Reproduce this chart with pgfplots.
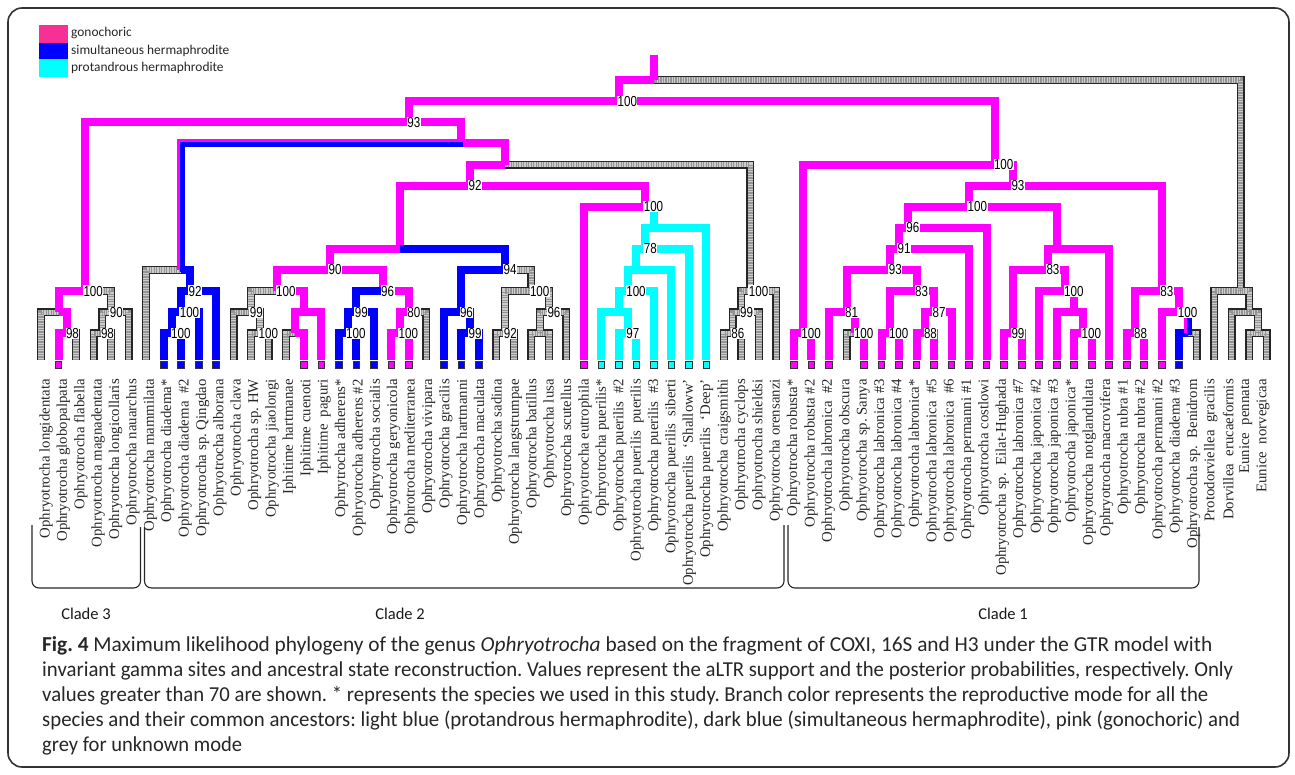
\documentclass[border=0pt]{standalone}
\usepackage{pgfplots}
\pgfplotsset{compat=1.18}
\usepackage{pgfplotstable}
\usepackage{graphicx}
\usepackage{fontspec}
\setmainfont{Liberation Serif}
\newfontfamily\calib{Carlito}
\newfontfamily\arialf{Liberation Sans}
\definecolor{pk}{RGB}{255,0,255}
\definecolor{bl}{RGB}{0,0,255}
\definecolor{cy}{RGB}{0,255,255}
\definecolor{lpk}{RGB}{246,48,148}
\frenchspacing

\pgfplotstableread{
x y
41 360
41 312.2
58.5 312.2
nan nan
76 360
76 333.3
67.3 333.3
nan nan
93.5 360
93.5 333.3
102.3 333.3
nan nan
111 360
111 333.3
102.3 333.3
nan nan
102.3 333.3
102.3 312.2
111.1 312.2
nan nan
128.6 360
128.6 312.2
111.1 312.2
nan nan
111.1 312.2
111.1 291.1
84.8 291.1
nan nan
146.1 360
146.1 270
181.1 270
nan nan
233.6 360
233.6 312.2
251.1 312.2
nan nan
251.1 360
251.1 333.3
259.9 333.3
nan nan
268.6 360
268.6 333.3
259.9 333.3
nan nan
259.9 333.3
259.9 312.2
251.1 312.2
nan nan
251.1 312.2
251.1 291.1
277.4 291.1
nan nan
286.1 360
286.1 333.3
294.9 333.3
nan nan
426.2 360
426.2 312.2
408.7 312.2
nan nan
496.3 360
496.3 333.3
505.1 333.3
nan nan
513.8 360
513.8 333.3
505.1 333.3
nan nan
505.1 333.3
505.1 291.1
531.3 291.1
nan nan
531.3 360
531.3 333.3
540.1 333.3
nan nan
548.8 360
548.8 333.3
540.1 333.3
nan nan
540.1 333.3
540.1 312.2
548.8 312.2
nan nan
566.3 360
566.3 312.2
548.8 312.2
nan nan
548.8 312.2
548.8 291.1
531.3 291.1
nan nan
531.3 291.1
531.3 270
505 270
nan nan
723.9 360
723.9 333.3
732.7 333.3
nan nan
741.4 360
741.4 333.3
732.7 333.3
nan nan
732.7 333.3
732.7 312.2
741.4 312.2
nan nan
758.9 360
758.9 312.2
741.4 312.2
nan nan
741.4 312.2
741.4 291.1
750.2 291.1
nan nan
776.4 360
776.4 291.1
750.2 291.1
nan nan
750.2 291.1
750.2 164.5
505 164.5
nan nan
846.5 360
846.5 333.3
855.3 333.3
nan nan
1196.7 360
1196.7 333.3
1187.9 333.3
nan nan
1240.5 291.1
1240.5 80.1
653.9 80.1
nan nan
1214.2 360
1214.2 291.1
1240.5 291.1
nan nan
1249.2 312.2
1249.2 291.1
1240.5 291.1
nan nan
1231.7 360
1231.7 312.2
1249.2 312.2
nan nan
1258 333.3
1258 312.2
1249.2 312.2
nan nan
1249.2 360
1249.2 333.3
1258 333.3
nan nan
1266.7 360
1266.7 333.3
1258 333.3
}\graydata

\pgfplotstableread{
x y
58.5 360
58.5 333.3
67.3 333.3
nan nan
67.3 333.3
67.3 312.2
58.5 312.2
nan nan
58.5 312.2
58.5 291.1
84.8 291.1
nan nan
84.8 291.1
84.8 122.3
408.7 122.3
nan nan
303.7 360
303.7 333.3
294.9 333.3
nan nan
294.9 333.3
294.9 312.2
303.7 312.2
nan nan
321.2 360
321.2 312.2
303.7 312.2
nan nan
303.7 312.2
303.7 291.1
277.4 291.1
nan nan
277.4 291.1
277.4 270
329.9 270
nan nan
391.2 360
391.2 333.3
400 333.3
nan nan
408.7 360
408.7 333.3
400 333.3
nan nan
400 333.3
400 312.2
408.7 312.2
nan nan
408.7 312.2
408.7 291.1
382.5 291.1
nan nan
382.5 291.1
382.5 270
329.9 270
nan nan
329.9 270
329.9 248.9
400 248.9
nan nan
400 248.9
400 185.6
470 185.6
nan nan
583.8 360
583.8 206.7
645.1 206.7
nan nan
645.1 206.7
645.1 185.6
470 185.6
nan nan
470 185.6
470 164.5
505 164.5
nan nan
505 164.5
505 143.4
461.3 143.4
nan nan
461.3 143.4
461.3 122.3
408.7 122.3
nan nan
408.7 122.3
408.7 101.2
618.9 101.2
nan nan
618.9 101.2
618.9 80.1
653.9 80.1
nan nan
653.9 80.1
653.9 55
nan nan
995.3 164.5
995.3 101.2
618.9 101.2
nan nan
793.9 360
793.9 333.3
802.7 333.3
nan nan
811.4 360
811.4 333.3
802.7 333.3
nan nan
802.7 333.3
802.7 164.5
995.3 164.5
nan nan
1012.8 185.6
1012.8 164.5
995.3 164.5
nan nan
969 206.7
969 185.6
1012.8 185.6
nan nan
1161.7 291.1
1161.7 185.6
1012.8 185.6
nan nan
907.7 227.8
907.7 206.7
969 206.7
nan nan
1056.6 248.9
1056.6 206.7
969 206.7
nan nan
899 248.9
899 227.8
907.7 227.8
nan nan
986.5 360
986.5 227.8
907.7 227.8
nan nan
890.2 270
890.2 248.9
899 248.9
nan nan
969 360
969 248.9
899 248.9
nan nan
846.5 312.2
846.5 270
890.2 270
nan nan
916.5 291.1
916.5 270
890.2 270
nan nan
828.9 360
828.9 312.2
846.5 312.2
nan nan
855.3 333.3
855.3 312.2
846.5 312.2
nan nan
864 360
864 333.3
855.3 333.3
nan nan
890.3 333.3
890.3 291.1
916.5 291.1
nan nan
881.5 360
881.5 333.3
890.3 333.3
nan nan
899 360
899 333.3
890.3 333.3
nan nan
934 312.2
934 291.1
916.5 291.1
nan nan
925.3 333.3
925.3 312.2
934 312.2
nan nan
951.5 360
951.5 312.2
934 312.2
nan nan
916.5 360
916.5 333.3
925.3 333.3
nan nan
934 360
934 333.3
925.3 333.3
nan nan
1047.8 270
1047.8 248.9
1056.6 248.9
nan nan
1109.1 360
1109.1 248.9
1056.6 248.9
nan nan
1012.8 333.3
1012.8 270
1047.8 270
nan nan
1065.4 291.1
1065.4 270
1047.8 270
nan nan
1004 360
1004 333.3
1012.8 333.3
nan nan
1021.6 360
1021.6 333.3
1012.8 333.3
nan nan
1039.1 360
1039.1 291.1
1065.4 291.1
nan nan
1074.1 312.2
1074.1 291.1
1065.4 291.1
nan nan
1056.6 360
1056.6 312.2
1074.1 312.2
nan nan
1082.9 333.3
1082.9 312.2
1074.1 312.2
nan nan
1074.1 360
1074.1 333.3
1082.9 333.3
nan nan
1091.6 360
1091.6 333.3
1082.9 333.3
nan nan
1135.4 333.3
1135.4 291.1
1161.7 291.1
nan nan
1126.6 360
1126.6 333.3
1135.4 333.3
nan nan
1144.1 360
1144.1 333.3
1135.4 333.3
nan nan
1179.2 312.2
1179.2 291.1
1161.7 291.1
nan nan
1161.6 360
1161.6 312.2
1179.2 312.2
}\pinkdata

\pgfplotstableread{
x y
163.6 360
163.6 333.3
172.4 333.3
nan nan
181.1 360
181.1 333.3
172.4 333.3
nan nan
172.4 333.3
172.4 312.2
181.1 312.2
nan nan
198.6 360
198.6 312.2
181.1 312.2
nan nan
181.1 312.2
181.1 291.1
189.9 291.1
nan nan
216.1 360
216.1 291.1
189.9 291.1
nan nan
189.9 291.1
189.9 270
181.1 270
nan nan
338.7 360
338.7 333.3
347.5 333.3
nan nan
356.2 360
356.2 333.3
347.5 333.3
nan nan
347.5 333.3
347.5 312.2
356.2 312.2
nan nan
373.7 360
373.7 312.2
356.2 312.2
nan nan
356.2 312.2
356.2 291.1
382.5 291.1
nan nan
443.7 360
443.7 312.2
461.3 312.2
nan nan
470 333.3
470 312.2
461.3 312.2
nan nan
461.2 360
461.2 333.3
470 333.3
nan nan
478.8 360
478.8 333.3
470 333.3
nan nan
461.3 312.2
461.3 270
505 270
nan nan
505 270
505 248.9
400 248.9
nan nan
1179.1 360
1179.1 333.3
1187.9 333.3
}\bluedata

\pgfplotstableread{
x y
601.3 360
601.3 312.2
618.8 312.2
nan nan
627.6 333.3
627.6 312.2
618.8 312.2
nan nan
618.8 360
618.8 333.3
627.6 333.3
nan nan
636.3 360
636.3 333.3
627.6 333.3
nan nan
618.8 312.2
618.8 291.1
627.6 291.1
nan nan
653.9 360
653.9 291.1
627.6 291.1
nan nan
627.6 291.1
627.6 270
636.4 270
nan nan
671.4 360
671.4 270
636.4 270
nan nan
636.4 270
636.4 248.9
645.1 248.9
nan nan
688.9 360
688.9 248.9
645.1 248.9
nan nan
645.1 248.9
645.1 227.8
653.9 227.8
nan nan
706.4 360
706.4 227.8
653.9 227.8
nan nan
653.9 227.8
653.9 206.7
645.1 206.7
}\cyandata

\pgfplotstableread{
x y
181.1 270
181.1 143.4
461.3 143.4
nan nan
1187.9 333.3
1187.9 312.2
1179.2 312.2
}\mixdata

\pgfplotstableread{
x y
58.5 365
303.7 365
321.2 365
391.2 365
408.7 365
583.8 365
793.9 365
811.4 365
828.9 365
864.0 365
881.5 365
899.0 365
916.5 365
934.0 365
951.5 365
969.0 365
986.5 365
1004.0 365
1021.6 365
1039.1 365
1056.6 365
1074.1 365
1091.6 365
1109.1 365
1126.6 365
1144.1 365
1161.6 365
}\pinkleaves

\pgfplotstableread{
x y
163.6 365
181.1 365
198.6 365
216.1 365
338.7 365
356.2 365
373.7 365
443.7 365
461.2 365
478.8 365
1179.1 365
}\blueleaves

\pgfplotstableread{
x y
601.3 365
618.8 365
636.3 365
653.9 365
671.4 365
688.9 365
706.4 365
}\cyanleaves

\tikzset{
  br/.style={line width=8pt, line join=miter, line cap=butt},
  lf/.style={rotate=90, anchor=east, inner sep=0pt, text=black!85,
     font=\fontsize{14.8}{15}\selectfont},
  bs/.style={anchor=west, fill=white, inner sep=0.5pt,
     font=\arialf\fontsize{14.5}{14.5}\selectfont},
  captxt/.style={anchor=base west, inner sep=0, text=black!85,
     font=\calib\fontsize{21.3}{23}\selectfont},
  cladetxt/.style={font=\calib\fontsize{16.5}{17}\selectfont, text=black!90},
}
\newcommand{\bsv}[1]{\scalebox{0.8}[1]{#1}}

\begin{document}
\begin{tikzpicture}
\begin{axis}[
  width=1295pt, height=774pt, scale only axis,
  xmin=0, xmax=1295, ymin=0, ymax=774, y dir=reverse,
  hide axis, clip=false, unbounded coords=jump]

\path (axis cs:0,0) rectangle (axis cs:1295,774);

% frame
\draw[rounded corners=14pt, line width=1.6pt, black!80]
  (axis cs:8,8) rectangle (axis cs:1289,767);

% legend
\fill[lpk] (axis cs:39,25) rectangle (axis cs:68,42.7);
\fill[bl] (axis cs:39,42.7) rectangle (axis cs:68,59.3);
\fill[cy] (axis cs:39,59.3) rectangle (axis cs:68,76.7);
\node[anchor=west, inner sep=0, text=black!85, font=\calib\fontsize{13.4}{14}\selectfont] at (axis cs:71,32.5) {gonochoric};
\node[anchor=west, inner sep=0, text=black!85, font=\calib\fontsize{13.4}{14}\selectfont] at (axis cs:71,51) {simultaneous hermaphrodite};
\node[anchor=west, inner sep=0, text=black!85, font=\calib\fontsize{13.4}{14}\selectfont] at (axis cs:71,67.5) {protandrous hermaphrodite};

% tree
\addplot[br, draw=black!85] table {\graydata};
\addplot[br, draw=gray!40, line width=5.4pt,
  postaction={draw=gray!85, dash pattern=on 1.2pt off 1.3pt}] table {\graydata};
\addplot[br, draw=pk] table {\pinkdata};
\addplot[br, draw=bl] table {\bluedata};
\addplot[br, draw=cy] table {\cyandata};
\addplot[br, draw=pk] table {\mixdata};
\addplot[br, draw=bl, line width=5pt, xshift=1.5pt, yshift=-1.5pt] table {\mixdata};

% leaf boxes
\addplot[only marks, mark=square*, mark size=3.3pt, mark options={fill=pk, draw=black!80, line width=0.8pt}] table {\pinkleaves};
\addplot[only marks, mark=square*, mark size=3.3pt, mark options={fill=bl, draw=black!80, line width=0.8pt}] table {\blueleaves};
\addplot[only marks, mark=square*, mark size=3.3pt, mark options={fill=cy, draw=black!80, line width=0.8pt}] table {\cyanleaves};

% support values
\node[bs] at (axis cs:65.3,333.3) {\bsv{98}};
\node[bs] at (axis cs:100.3,333.3) {\bsv{98}};
\node[bs] at (axis cs:109.1,312.2) {\bsv{90}};
\node[bs] at (axis cs:82.8,291.1) {\bsv{100}};
\node[bs] at (axis cs:170.4,333.3) {\bsv{100}};
\node[bs] at (axis cs:179.1,312.2) {\bsv{100}};
\node[bs] at (axis cs:187.9,291.1) {\bsv{92}};
\node[bs] at (axis cs:257.9,333.3) {\bsv{100}};
\node[bs] at (axis cs:249.1,312.2) {\bsv{99}};
\node[bs] at (axis cs:275.4,291.1) {\bsv{100}};
\node[bs] at (axis cs:345.5,333.3) {\bsv{100}};
\node[bs] at (axis cs:354.2,312.2) {\bsv{99}};
\node[bs] at (axis cs:398,333.3) {\bsv{100}};
\node[bs] at (axis cs:406.7,312.2) {\bsv{80}};
\node[bs] at (axis cs:380.5,291.1) {\bsv{96}};
\node[bs] at (axis cs:327.9,270) {\bsv{90}};
\node[bs] at (axis cs:468,333.3) {\bsv{99}};
\node[bs] at (axis cs:459.3,312.2) {\bsv{96}};
\node[bs] at (axis cs:503.1,333.3) {\bsv{92}};
\node[bs] at (axis cs:546.8,312.2) {\bsv{96}};
\node[bs] at (axis cs:529.3,291.1) {\bsv{100}};
\node[bs] at (axis cs:503,270) {\bsv{94}};
\node[bs] at (axis cs:625.6,333.3) {\bsv{97}};
\node[bs] at (axis cs:625.6,291.1) {\bsv{100}};
\node[bs] at (axis cs:643.1,248.9) {\bsv{78}};
\node[bs] at (axis cs:643.1,206.7) {\bsv{100}};
\node[bs] at (axis cs:468,185.6) {\bsv{92}};
\node[bs] at (axis cs:730.7,333.3) {\bsv{86}};
\node[bs] at (axis cs:739.4,312.2) {\bsv{99}};
\node[bs] at (axis cs:748.2,291.1) {\bsv{100}};
\node[bs] at (axis cs:406.7,122.3) {\bsv{93}};
\node[bs] at (axis cs:616.9,101.2) {\bsv{100}};
\node[bs] at (axis cs:800.7,333.3) {\bsv{100}};
\node[bs] at (axis cs:853.3,333.3) {\bsv{100}};
\node[bs] at (axis cs:844.5,312.2) {\bsv{81}};
\node[bs] at (axis cs:888.3,333.3) {\bsv{100}};
\node[bs] at (axis cs:923.3,333.3) {\bsv{88}};
\node[bs] at (axis cs:932,312.2) {\bsv{87}};
\node[bs] at (axis cs:914.5,291.1) {\bsv{83}};
\node[bs] at (axis cs:888.2,270) {\bsv{93}};
\node[bs] at (axis cs:897,248.9) {\bsv{91}};
\node[bs] at (axis cs:905.7,227.8) {\bsv{96}};
\node[bs] at (axis cs:1010.8,333.3) {\bsv{99}};
\node[bs] at (axis cs:1080.9,333.3) {\bsv{100}};
\node[bs] at (axis cs:1063.4,291.1) {\bsv{100}};
\node[bs] at (axis cs:1045.8,270) {\bsv{83}};
\node[bs] at (axis cs:967,206.7) {\bsv{100}};
\node[bs] at (axis cs:1133.4,333.3) {\bsv{88}};
\node[bs] at (axis cs:1177.2,312.2) {\bsv{100}};
\node[bs] at (axis cs:1159.7,291.1) {\bsv{83}};
\node[bs] at (axis cs:1010.8,185.6) {\bsv{93}};
\node[bs] at (axis cs:993.3,164.5) {\bsv{100}};

% leaf labels
\node[lf] at (axis cs:46.0,379) {Ophryotrocha longidentata};
\node[lf] at (axis cs:63.4,379) {Ophryotrocha globopalpata};
\node[lf] at (axis cs:80.8,379) {Ophryotrocha flabella};
\node[lf] at (axis cs:98.2,379) {Ophryotrocha magnadentata};
\node[lf] at (axis cs:115.5,379) {Ophryotrocha longicollaris};
\node[lf] at (axis cs:132.9,379) {Ophryotrocha nauarchus};
\node[lf] at (axis cs:150.3,379) {Ophryotrocha mammilata};
\node[lf] at (axis cs:167.7,379) {Ophryotrocha diadema*};
\node[lf] at (axis cs:185.1,379) {Ophryotrocha diadema\ \ \#2};
\node[lf] at (axis cs:202.5,379) {Ophryotrocha sp. Qingdao};
\node[lf] at (axis cs:219.9,379) {Ophryotrocha alborana};
\node[lf] at (axis cs:237.2,379) {Ophryotrocha clava};
\node[lf] at (axis cs:254.6,379) {Ophryotrocha sp. HW};
\node[lf] at (axis cs:272.0,379) {Ophryotrocha jiaolongi};
\node[lf] at (axis cs:289.4,379) {Iphitime hartmanae};
\node[lf] at (axis cs:306.8,379) {Iphitime cuenoti};
\node[lf] at (axis cs:324.2,379) {Iphitime\ \ paguri};
\node[lf] at (axis cs:341.6,379) {Ophrytrocha adherens*};
\node[lf] at (axis cs:359.0,379) {Ophryotrocha adherens \#2};
\node[lf] at (axis cs:376.3,379) {Ophryotrocha socialis};
\node[lf] at (axis cs:393.7,379) {Ophryotrocha geryonicola};
\node[lf] at (axis cs:411.1,379) {Ophrotrocha mediterranea};
\node[lf] at (axis cs:428.5,379) {Ophryotrocha vivipara};
\node[lf] at (axis cs:445.9,379) {Ophryotrocha gracilis};
\node[lf] at (axis cs:463.3,379) {Ophryotrocha hartmanni};
\node[lf] at (axis cs:480.7,379) {Ophryotrocha maculata};
\node[lf] at (axis cs:498.0,379) {Ophryotrocha sadina};
\node[lf] at (axis cs:515.4,379) {Ophryotrocha langstrumpae};
\node[lf] at (axis cs:532.8,379) {Ophryotrocha batillus};
\node[lf] at (axis cs:550.2,379) {Ophryotrocha lusa};
\node[lf] at (axis cs:567.6,379) {Ophryotrocha scutellus};
\node[lf] at (axis cs:585.0,379) {Ophryotrocha eutrophila};
\node[lf] at (axis cs:602.4,379) {Ophryotrocha puerilis*};
\node[lf] at (axis cs:619.8,379) {Ophryotrocha puerilis\ \ \#2};
\node[lf] at (axis cs:637.1,379) {Ophryotrocha puerilis\ \ puerilis};
\node[lf] at (axis cs:654.5,379) {Ophryotrocha puerilis\ \ \#3};
\node[lf] at (axis cs:671.9,379) {Ophryotrocha puerilis\ \ siberti};
\node[lf] at (axis cs:689.3,379) {Ophryotrocha puerilis\ \ ‘Shalloww’};
\node[lf] at (axis cs:706.7,379) {Ophryotrocha puerilis\ \ ‘Deep’};
\node[lf] at (axis cs:724.1,379) {Ophryotrocha craigsmithi};
\node[lf] at (axis cs:741.5,379) {Ophryotrocha cyclops};
\node[lf] at (axis cs:758.8,379) {Ophryotrocha shieldsi};
\node[lf] at (axis cs:776.2,379) {Ophryotrocha orensanzi};
\node[lf] at (axis cs:793.6,379) {Ophryotrocha robusta*};
\node[lf] at (axis cs:811.0,379) {Ophryotrocha robusta \#2};
\node[lf] at (axis cs:828.4,379) {Ophryotrocha labronica\ \ \#2};
\node[lf] at (axis cs:845.8,379) {Ophryotrocha obscura};
\node[lf] at (axis cs:863.2,379) {Ophryotrocha sp. Sanya};
\node[lf] at (axis cs:880.5,379) {Ophryotrocha labronica \#3};
\node[lf] at (axis cs:897.9,379) {Ophryotrocha labronica \#4};
\node[lf] at (axis cs:915.3,379) {Ophryotrocha labronica*};
\node[lf] at (axis cs:932.7,379) {Ophryotrocha labronica\ \ \#5};
\node[lf] at (axis cs:950.1,379) {Ophryotrocha labronica\ \ \#6};
\node[lf] at (axis cs:967.5,379) {Ophryotrocha permanni \#1};
\node[lf] at (axis cs:984.9,379) {Ophryotrocha costlowi};
\node[lf] at (axis cs:1002.3,379) {Ophryotrocha sp.\ \ Eilat-Hughada};
\node[lf] at (axis cs:1019.6,379) {Ophryotrocha labronica \#7};
\node[lf] at (axis cs:1037.0,379) {Ophryotrocha japonica \#2};
\node[lf] at (axis cs:1054.4,379) {Ophryotrocha japonica \#3};
\node[lf] at (axis cs:1071.8,379) {Ophryotrocha japonica*};
\node[lf] at (axis cs:1089.2,379) {Ophryotrocha notglandulata};
\node[lf] at (axis cs:1106.6,379) {Ophryotrocha macrovifera};
\node[lf] at (axis cs:1124.0,379) {Ophryotrocha rubra \#1};
\node[lf] at (axis cs:1141.3,379) {Ophryotrocha rubra \#2};
\node[lf] at (axis cs:1158.7,379) {Ophryotrocha permanni \#2};
\node[lf] at (axis cs:1176.1,379) {Ophryotrocha diadema \#3};
\node[lf] at (axis cs:1193.5,379) {Ophryotrocha sp.\ \ Benidrom};
\node[lf] at (axis cs:1210.9,379) {Protodorviellea\ \ gracilis};
\node[lf] at (axis cs:1228.3,379) {Dorvillea\ \ erucaeformis};
\node[lf] at (axis cs:1245.7,379) {Eunice\ \ pennata};
\node[lf] at (axis cs:1263.1,379) {Eunice\ \ norvegicaa};

% clade brackets
\draw[line width=1.1pt, black!85, rounded corners=7pt]
  (axis cs:32,525) -- (axis cs:32,588) -- (axis cs:140.5,588) -- (axis cs:140.5,527);
\draw[line width=1.1pt, black!85, rounded corners=7pt]
  (axis cs:144.5,527) -- (axis cs:144.5,588) -- (axis cs:784,588) -- (axis cs:784,525);
\draw[line width=1.1pt, black!85, rounded corners=7pt]
  (axis cs:788,525) -- (axis cs:788,588) -- (axis cs:1199,588) -- (axis cs:1199,527);
\node[cladetxt] at (axis cs:86,614) {Clade 3};
\node[cladetxt] at (axis cs:400,614) {Clade 2};
\node[cladetxt] at (axis cs:1003,614) {Clade 1};

% caption
\node[captxt] at (axis cs:42,651.7) {\resizebox{1170pt}{\height}{\textbf{Fig. 4} Maximum likelihood phylogeny of the genus \textit{Ophryotrocha} based on the fragment of COXI, 16S and H3 under the GTR model with}};
\node[captxt] at (axis cs:42,676.7) {\resizebox{1191pt}{\height}{invariant gamma sites and ancestral state reconstruction. Values represent the aLTR support and the posterior probabilities, respectively. Only}};
\node[captxt] at (axis cs:42,701.7) {\resizebox{1166pt}{\height}{values greater than 70 are shown. * represents the species we used in this study. Branch color represents the reproductive mode for all the}};
\node[captxt] at (axis cs:42,726.7) {\resizebox{1198pt}{\height}{species and their common ancestors: light blue (protandrous hermaphrodite), dark blue (simultaneous hermaphrodite), pink (gonochoric) and}};
\node[captxt] at (axis cs:42,751.7) {\resizebox{200pt}{\height}{grey for unknown mode}};
\end{axis}
\end{tikzpicture}
\end{document}
